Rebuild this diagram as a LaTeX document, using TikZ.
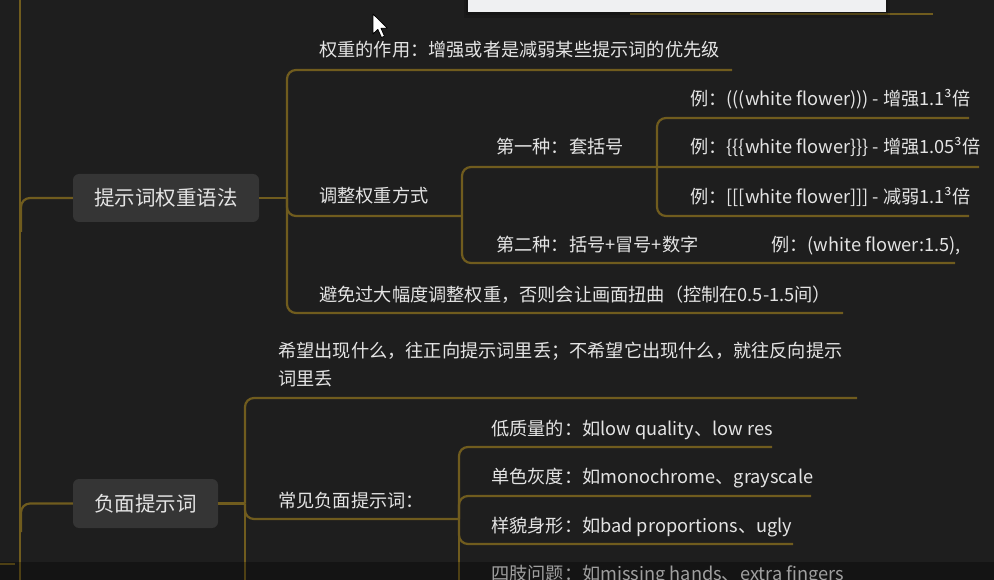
\documentclass[tikz,border=0pt]{standalone}
\usepackage{fontspec}
\setmainfont{Noto Sans CJK SC}
\definecolor{bgcol}{HTML}{1E1E1E}
\definecolor{linecol}{HTML}{705C1E}
\definecolor{nodefill}{HTML}{353535}
\definecolor{txt}{HTML}{E4E4E4}
\definecolor{boxcol}{HTML}{EFF0F2}
\begin{document}
\begin{tikzpicture}[x=1pt,y=-1pt,
  link/.style={draw=linecol, line width=2.2pt, rounded corners=9pt},
  topic/.style={fill=nodefill, rounded corners=6pt, text=txt, inner sep=0pt,
    font=\fontsize{20.5}{24}\selectfont},
  item/.style={anchor=base west, inner sep=0pt, text=txt,
    font=\fontsize{18.2}{22}\selectfont}]
\fill[bgcol] (0,0) rectangle (994,580);
\useasboundingbox (0,0) rectangle (994,580);
\clip (0,0) rectangle (994,580);

% coordinates
\coordinate (jL1) at (21,232);
\coordinate (jL2) at (21,532);
\coordinate (j1) at (287,198);
\coordinate (j2) at (462,216);
\coordinate (j3) at (657,167);
\coordinate (j4) at (245,503.5);
\coordinate (j5) at (459,519);
\coordinate (e1) at (732,70);
\coordinate (e3) at (843,313);
\coordinate (e4) at (979,167);
\coordinate (e5) at (955,263);
\coordinate (e6) at (969,118);
\coordinate (e7) at (969,216);
\coordinate (e8) at (857,398);
\coordinate (e9) at (245,600);
\coordinate (e10) at (772,447);
\coordinate (e11) at (811,496);
\coordinate (e12) at (793,544);
\coordinate (e13) at (459,600);
\coordinate (tA) at (20,-10);
\coordinate (tB) at (20,600);
\coordinate (sA) at (-10,564);
\coordinate (sB) at (15,564);
\coordinate (gA) at (630,14);
\coordinate (gB) at (933,14);

% topics
\node[topic, minimum width=186pt, minimum height=48pt] (t1) at (166,198) {提示词权重语法};
\node[topic, minimum width=145pt, minimum height=49pt] (t2) at (145.5,503.5) {负面提示词};

% connectors
\draw[link] (tA) -- (tB);
\draw[link] (sA) -- (sB);
\draw[link] (gA) -- (gB);
\draw[link] (jL1) |- (t1.west);
\draw[link] (jL2) |- (t2.west);
\draw[link] (t1.east) -- (j1);
\draw[link] (j1) |- (e1);
\draw[link] (j1) |- (j2);
\draw[link] (j1) |- (e3);
\draw[link] (j2) |- (e4);
\draw[link] (j2) |- (e5);
\draw[link] (j3) |- (e6);
\draw[link] (j3) |- (e7);
\draw[link] (t2.east) -- (j4);
\draw[link] (j4) |- (e8);
\draw[link] (j4) |- (j5);
\draw[link] (j4) -- (e9);
\draw[link] (j5) |- (e10);
\draw[link] (j5) |- (e11);
\draw[link] (j5) |- (e12);
\draw[link] (j5) -- (e13);

% texts
\node[item] (w1) at (319,57) {权重的作用：增强或者是减弱某些提示词的优先级};
\node[item] (w2) at (319,203) {调整权重方式};
\node[item] (w3) at (319,301.5) {避免过大幅度调整权重，否则会让画面扭曲（控制在0.5-1.5间）};
\node[item] (f1) at (496,154) {第一种：套括号};
\node[item] (f2) at (496,252) {第二种：括号+冒号+数字};
\node[item] (x1) at (690,106) {例：(((white flower))) - 增强1.1³倍};
\node[item] (x2) at (690,154) {例：\{\{\{white flower\}\}\} - 增强1.05³倍};
\node[item] (x3) at (690,203.5) {例：[[[white flower]]] - 减弱1.1³倍};
\node[item] (x4) at (771,252) {例：(white flower:1.5),};
\node[item] (h1) at (278,357) {希望出现什么，往正向提示词里丢；不希望它出现什么，就往反向提示};
\node[item] (h2) at (278,385) {词里丢};
\node[item] (c1) at (278,507) {常见负面提示词：};
\node[item] (g1) at (491,435) {低质量的：如low quality、low res};
\node[item] (g2) at (491,483.5) {单色灰度：如monochrome、grayscale};
\node[item] (g3) at (491,532.5) {样貌身形：如bad proportions、ugly};
\node[item] (g4) at (491,580) {四肢问题：如missing hands、extra fingers};

% bottom dim strip
\fill[black, opacity=0.3] (0,562) rectangle (994,580);

% top window fragment with shadow
\fill[black, opacity=0.15] (464,-5) rectangle (890,18);
\fill[black, opacity=0.15] (466,-5) rectangle (888,15);
\fill[boxcol] (468,-5) rectangle (886,12);

% mouse cursor
\filldraw[fill=white, draw=black, line width=0.8pt, line join=round]
  (373,14) -- (373,34) -- (377.8,29.4) -- (381.5,37.5) -- (384.5,36.2) -- (381,28.2) -- (387.5,28.2) -- cycle;
\end{tikzpicture}
\end{document}
